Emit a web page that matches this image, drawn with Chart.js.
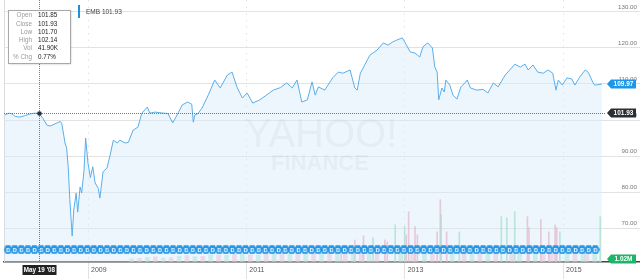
<!DOCTYPE html>
<html>
<head>
<meta charset="utf-8">
<script src="https://cdn.jsdelivr.net/npm/chart.js@4.4.1/dist/chart.umd.min.js"></script>
<style>
  html, body { margin: 0; padding: 0; background: #fff; overflow: hidden; }
  canvas { display: block; }
</style>
</head>
<body>
<canvas id="chart" width="640" height="279"></canvas>
<script>
// EMB daily close (x = fractional year)
const closeYears = [
  2007.95, 2008.00, 2008.04, 2008.08, 2008.14, 2008.20, 2008.27, 2008.33, 2008.38, 2008.43,
  2008.48, 2008.52, 2008.57, 2008.61, 2008.65, 2008.67, 2008.71, 2008.73, 2008.75, 2008.77,
  2008.80, 2008.82, 2008.85, 2008.87, 2008.90, 2008.92, 2008.95, 2008.97, 2009.00, 2009.03,
  2009.06, 2009.09, 2009.13, 2009.15, 2009.19, 2009.24, 2009.28, 2009.32, 2009.37, 2009.40,
  2009.47, 2009.51, 2009.57, 2009.63, 2009.68, 2009.75, 2009.78, 2009.85, 2009.91, 2010.01,
  2010.07, 2010.14, 2010.19, 2010.26, 2010.31, 2010.33, 2010.35, 2010.39, 2010.44, 2010.52,
  2010.60, 2010.67, 2010.76, 2010.82, 2010.88, 2010.95, 2011.01, 2011.08, 2011.17, 2011.26,
  2011.34, 2011.43, 2011.51, 2011.58, 2011.64, 2011.70, 2011.77, 2011.83, 2011.87, 2011.91,
  2011.99, 2012.09, 2012.16, 2012.22, 2012.31, 2012.37, 2012.40, 2012.44, 2012.50, 2012.56,
  2012.65, 2012.73, 2012.79, 2012.85, 2012.90, 2012.97, 2013.00, 2013.07, 2013.13, 2013.19,
  2013.23, 2013.29, 2013.35, 2013.38, 2013.41, 2013.43, 2013.47, 2013.50, 2013.52, 2013.57,
  2013.61, 2013.66, 2013.71, 2013.76, 2013.79, 2013.83, 2013.91, 2013.99, 2014.05, 2014.12,
  2014.18, 2014.27, 2014.36, 2014.39, 2014.46, 2014.52, 2014.56, 2014.62, 2014.68, 2014.75,
  2014.81, 2014.87, 2014.91, 2014.94, 2014.99, 2015.05, 2015.11, 2015.15, 2015.21, 2015.28,
  2015.32, 2015.38, 2015.40, 2015.44, 2015.49
];
const closeValues = [
  101.4, 101.9, 101.7, 101.0, 100.8, 101.2, 101.7, 101.9, 101.93, 100.5,
  98.6, 98.3, 98.8, 99.2, 99.6, 98.9, 93.6, 92.2, 87.0, 78.0,
  67.8, 75.0, 79.7, 74.4, 81.4, 79.7, 86.0, 95.0, 88.0, 84.0,
  87.0, 82.5, 81.0, 78.3, 85.6, 86.7, 90.3, 94.4, 93.6, 94.4,
  93.6, 93.8, 97.2, 98.0, 101.9, 103.6, 101.9, 102.2, 102.0, 101.8,
  99.2, 102.0, 104.2, 105.0, 104.4, 99.4, 101.4, 101.8, 103.3, 107.0,
  111.1, 108.9, 112.5, 113.3, 109.2, 106.1, 107.5, 104.7, 105.6, 107.0,
  108.3, 109.0, 110.3, 108.9, 111.1, 105.0, 105.6, 110.6, 106.9, 109.2,
  108.3, 111.7, 113.3, 113.0, 113.9, 108.9, 108.3, 113.0, 115.5, 118.0,
  119.4, 121.4, 120.8, 121.7, 122.2, 122.8, 121.7, 118.9, 118.6, 117.5,
  120.3, 121.4, 120.0, 114.7, 113.3, 105.6, 108.9, 107.8, 111.1, 109.7,
  106.9, 105.8, 109.2, 110.3, 111.1, 108.9, 108.3, 108.5, 107.5, 110.3,
  109.2, 112.5, 114.7, 115.5, 114.7, 115.5, 113.9, 115.3, 113.3, 113.0,
  113.9, 113.0, 108.3, 111.1, 109.7, 111.7, 111.4, 109.7, 111.9, 113.9,
  113.2, 110.3, 109.7, 109.8, 109.97
];

// volume in millions: [year, volume]
const volumeUp = [
  [2012.60, 0.92], [2012.88, 1.42], [2013.00, 1.35], [2013.46, 1.80], [2013.69, 1.15],
  [2014.22, 1.73], [2014.29, 1.69], [2014.39, 1.92], [2014.96, 1.15], [2015.47, 1.73]
];
const volumeDown = [
  [2012.20, 0.60], [2012.37, 0.84], [2012.48, 1.00], [2012.75, 0.85], [2012.78, 0.77],
  [2013.02, 1.04], [2013.05, 1.92], [2013.13, 1.35], [2013.16, 1.04], [2013.41, 1.15],
  [2013.45, 2.38], [2013.53, 1.15], [2014.55, 1.73], [2014.57, 1.31], [2014.72, 1.62],
  [2014.82, 1.15], [2014.90, 1.42], [2014.92, 1.31]
];
const volumeBaseUp = [
  [2009.55, 0.12], [2009.75, 0.18], [2009.95, 0.15], [2010.15, 0.22], [2010.35, 0.20],
  [2010.55, 0.28], [2010.75, 0.25], [2010.95, 0.30], [2011.15, 0.26], [2011.35, 0.32],
  [2011.55, 0.30], [2011.75, 0.35], [2011.95, 0.33], [2012.15, 0.38], [2012.35, 0.36],
  [2012.55, 0.40], [2012.95, 0.45], [2013.25, 0.42], [2013.60, 0.45], [2013.85, 0.40],
  [2014.05, 0.42], [2014.45, 0.45], [2014.65, 0.40], [2015.05, 0.44], [2015.25, 0.40],
  [2015.40, 0.38]
];
const volumeBaseDown = [
  [2009.65, 0.14], [2009.85, 0.20], [2010.05, 0.16], [2010.25, 0.24], [2010.45, 0.22],
  [2010.65, 0.27], [2010.85, 0.30], [2011.05, 0.28], [2011.25, 0.30], [2011.45, 0.34],
  [2011.65, 0.32], [2011.85, 0.36], [2012.05, 0.35], [2012.25, 0.40], [2012.45, 0.38],
  [2012.65, 0.42], [2013.10, 0.45], [2013.35, 0.44], [2013.75, 0.40], [2013.95, 0.43],
  [2014.15, 0.40], [2014.35, 0.45], [2014.75, 0.42], [2014.85, 0.44], [2015.15, 0.40],
  [2015.30, 0.42]
];

// monthly dividend events
const dividendMonths = [
  '2008-01','2008-02','2008-03','2008-04','2008-05','2008-06','2008-07','2008-08','2008-09','2008-10','2008-11','2008-12',
  '2009-01','2009-02','2009-03','2009-04','2009-05','2009-06','2009-07','2009-08','2009-09','2009-10','2009-11','2009-12',
  '2010-01','2010-02','2010-03','2010-04','2010-05','2010-06','2010-07','2010-08','2010-09','2010-10','2010-11','2010-12',
  '2011-01','2011-02','2011-03','2011-04','2011-05','2011-06','2011-07','2011-08','2011-09','2011-10','2011-11','2011-12',
  '2012-01','2012-02','2012-03','2012-04','2012-05','2012-06','2012-07','2012-08','2012-09','2012-10','2012-11','2012-12',
  '2013-01','2013-02','2013-03','2013-04','2013-05','2013-06','2013-07','2013-08','2013-09','2013-10','2013-11','2013-12',
  '2014-01','2014-02','2014-03','2014-04','2014-05','2014-06','2014-07','2014-08','2014-09','2014-10','2014-11','2014-12',
  '2015-01','2015-02','2015-03','2015-04','2015-05','2015-06'
];

const xTicks = [2009, 2011, 2013, 2015];
const xTickLabels = ['2009', '2011', '2013', '2015'];
const yTicks = [70, 80, 90, 100, 110, 120, 130];

const ticker = 'EMB';
const hoverYear = 2008.38;
const hoverClose = 101.93;
const hoverDate = "May 19 '08";
const tooltipLabels = ['Open', 'Close', 'Low', 'High', 'Vol', '% Chg'];
const tooltipValues = ['101.85', '101.93', '101.70', '102.14', '41.90K', '0.77%'];
const lastClose = closeValues[closeValues.length - 1];
const lastVolumeLabel = '1.02M';

const FONT = '"Liberation Sans", Arial, sans-serif';
Chart.defaults.font.family = FONT;

function monthToYear(s) {
  const [y, m] = s.split('-').map(Number);
  return y + (m - 1) / 12 - 0.01;
}

// blue event badge, pointy left and right
function makeMarker(letter) {
  const c = document.createElement('canvas');
  c.width = 9; c.height = 9;
  const g = c.getContext('2d');
  g.fillStyle = '#2596e6';
  g.beginPath();
  g.moveTo(0, 4.5); g.lineTo(2.2, 0.3); g.lineTo(6.8, 0.3); g.lineTo(9, 4.5); g.lineTo(6.8, 8.7); g.lineTo(2.2, 8.7);
  g.closePath(); g.fill();
  g.fillStyle = '#fff';
  g.font = 'bold 6px ' + FONT;
  g.textAlign = 'center'; g.textBaseline = 'middle';
  g.fillText(letter, 4.6, 4.9);
  return c;
}
const marker = makeMarker('D');

function pairs(list) { return list.map(p => ({ x: p[0], y: p[1] })); }

const overlay = {
  id: 'overlay',
  beforeDatasetsDraw(chart) {
    const { ctx, chartArea: a } = chart;
    ctx.save();
    ctx.fillStyle = 'rgba(150,160,172,0.17)';
    ctx.textAlign = 'center';
    ctx.font = '40px ' + FONT;
    ctx.fillText('YAHOO!', 321, 147);
    ctx.font = 'bold 22px ' + FONT;
    ctx.fillText('FINANCE', 320, 170);
    ctx.strokeStyle = '#dcdcdc';
    ctx.beginPath(); ctx.moveTo(a.left + 0.5, a.top); ctx.lineTo(a.left + 0.5, a.bottom); ctx.stroke();
    ctx.restore();
  },
  afterDraw(chart) {
    const { ctx, chartArea: a, scales: { x, y } } = chart;
    const hx = Math.round(x.getPixelForValue(hoverYear)) + 0.5;
    const hy = Math.round(y.getPixelForValue(hoverClose)) + 0.5;
    const endX = x.getPixelForValue(closeYears[closeYears.length - 1]);
    ctx.save();

    // crosshair
    ctx.strokeStyle = '#777';
    ctx.lineWidth = 1;
    ctx.setLineDash([1, 1]);
    ctx.beginPath(); ctx.moveTo(hx, a.top); ctx.lineTo(hx, a.bottom); ctx.stroke();
    ctx.beginPath(); ctx.moveTo(a.left, hy); ctx.lineTo(endX + 4, hy); ctx.stroke();
    ctx.setLineDash([]);
    ctx.fillStyle = '#26303a';
    ctx.beginPath(); ctx.arc(hx, hy, 2.3, 0, Math.PI * 2); ctx.fill();

    // right-hand tags
    const tag = (ty, text, color) => {
      const x0 = a.right - 33, x1 = a.right - 4, h = 9;
      ctx.fillStyle = color;
      ctx.beginPath();
      ctx.moveTo(x0, ty); ctx.lineTo(x0 + 4, ty - h / 2); ctx.lineTo(x1, ty - h / 2);
      ctx.lineTo(x1, ty + h / 2); ctx.lineTo(x0 + 4, ty + h / 2); ctx.closePath(); ctx.fill();
      ctx.fillStyle = '#fff';
      ctx.font = 'bold 6.5px ' + FONT;
      ctx.textAlign = 'center'; ctx.textBaseline = 'middle';
      ctx.fillText(text, (x0 + 4 + x1) / 2, ty + 0.5);
    };
    tag(y.getPixelForValue(lastClose), lastClose.toFixed(2), '#1f97e8');
    tag(y.getPixelForValue(hoverClose), hoverClose.toFixed(2), '#2b2f33');
    tag(a.bottom - 3, lastVolumeLabel, '#1cb56a');

    // legend
    ctx.fillStyle = '#1f8fe0';
    ctx.fillRect(78, 5, 2, 13);
    ctx.fillStyle = '#444';
    ctx.font = '6.5px ' + FONT;
    ctx.textAlign = 'left'; ctx.textBaseline = 'middle';
    ctx.fillText(ticker + ' ' + hoverClose.toFixed(2), 86, 12.5);

    // tooltip box
    ctx.shadowColor = 'rgba(0,0,0,0.25)';
    ctx.shadowBlur = 2;
    ctx.fillStyle = '#fff';
    ctx.fillRect(8.5, 10.5, 62, 53);
    ctx.shadowBlur = 0; ctx.shadowColor = 'transparent';
    ctx.strokeStyle = '#a8a8a8';
    ctx.strokeRect(8.5, 10.5, 62, 53);
    ctx.font = '6.3px ' + FONT;
    tooltipLabels.forEach((lab, i) => {
      const ry = 15.5 + i * 8.3;
      ctx.textAlign = 'right'; ctx.fillStyle = '#9a9a9a';
      ctx.fillText(lab, 32, ry);
      ctx.textAlign = 'left'; ctx.fillStyle = '#222';
      ctx.fillText(tooltipValues[i], 38, ry);
    });

    // date label
    ctx.fillStyle = '#222';
    ctx.fillRect(hx - 17, a.bottom + 3, 34, 10);
    ctx.fillStyle = '#fff';
    ctx.font = 'bold 6.3px ' + FONT;
    ctx.textAlign = 'center'; ctx.textBaseline = 'middle';
    ctx.fillText(hoverDate, hx, a.bottom + 8.5);
    ctx.restore();
  }
};

const ctx = document.getElementById('chart').getContext('2d');
new Chart(ctx, {
  type: 'line',
  data: {
    datasets: [
      {
        type: 'line',
        label: ticker,
        data: closeYears.map((v, i) => ({ x: v, y: closeValues[i] })),
        borderColor: '#5aaee9',
        borderWidth: 1,
        backgroundColor: 'rgba(214,234,250,0.45)',
        fill: 'start',
        pointRadius: 0,
        tension: 0,
        order: 2
      },
      {
        type: 'line',
        label: 'dividends',
        data: dividendMonths.map(m => ({ x: monthToYear(m), y: 64.0 })),
        showLine: false,
        pointStyle: marker,
        pointRadius: 4,
        order: 0
      },
      { type: 'bar', data: pairs(volumeBaseUp), yAxisID: 'yv', backgroundColor: 'rgba(150,222,185,0.55)', barThickness: 4, grouped: false, order: 3 },
      { type: 'bar', data: pairs(volumeBaseDown), yAxisID: 'yv', backgroundColor: 'rgba(245,165,185,0.55)', barThickness: 4, grouped: false, order: 3 },
      { type: 'bar', data: pairs(volumeUp), yAxisID: 'yv', backgroundColor: 'rgba(140,215,175,0.8)', barThickness: 1, grouped: false, order: 3 },
      { type: 'bar', data: pairs(volumeDown), yAxisID: 'yv', backgroundColor: 'rgba(240,150,172,0.8)', barThickness: 1, grouped: false, order: 3 }
    ]
  },
  options: {
    responsive: false,
    animation: false,
    devicePixelRatio: 1,
    layout: { autoPadding: false, padding: { left: 4, top: 0, right: 0, bottom: 0 } },
    plugins: { legend: { display: false }, tooltip: { enabled: false } },
    scales: {
      x: {
        type: 'linear',
        min: 2007.939,
        max: 2015.972,
        offset: false,
        afterBuildTicks: s => { s.ticks = xTicks.map(v => ({ value: v })); },
        afterFit: s => { s.height = 17; s.paddingLeft = 0; s.paddingRight = 0; },
        grid: { color: '#e2e2e2', drawTicks: true, tickLength: 17, offset: false },
        border: { display: true, color: '#444', width: 1.5, dash: [1.5, 5.1] },
        ticks: {
          autoSkip: false, maxRotation: 0, align: 'start', labelOffset: 3, padding: -13,
          color: '#555', font: { size: 7 },
          callback: (v, i) => xTickLabels[i]
        }
      },
      y: {
        position: 'right',
        min: 60.56,
        max: 133.33,
        afterBuildTicks: s => { s.ticks = yTicks.map(v => ({ value: v })); },
        afterFit: s => { s.width = 0; s.paddingTop = 0; s.paddingBottom = 0; },
        grid: { color: '#e2e2e2', drawTicks: false },
        border: { display: false },
        ticks: {
          mirror: true, padding: -3, labelOffset: -5,
          color: '#777', font: { size: 6.2 },
          callback: v => v.toFixed(2)
        }
      },
      yv: { display: false, min: 0, max: 10 }
    }
  },
  plugins: [overlay]
});
</script>
</body>
</html>
